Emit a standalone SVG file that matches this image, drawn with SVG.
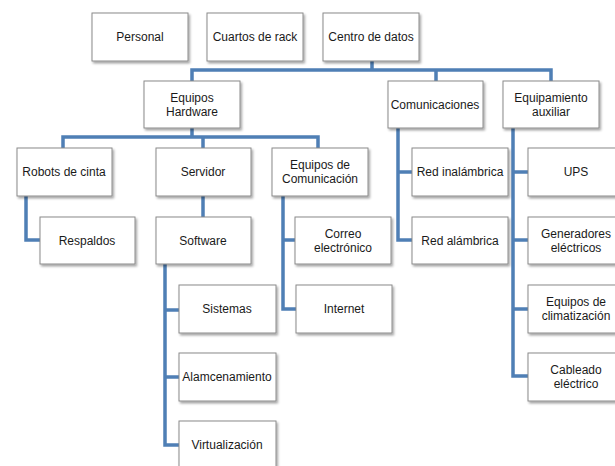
<svg xmlns="http://www.w3.org/2000/svg" width="615" height="466" viewBox="0 0 615 466">
<style>
.box{fill:#fff;stroke:#8a8a8a;stroke-width:1;filter:url(#sh)}
.t{font-family:"Liberation Sans",Arial,sans-serif;font-size:12px;fill:#1a1a1a;text-anchor:middle}
.c{fill:none;stroke:#4f7fb5;stroke-width:3.5;stroke-linejoin:miter}
</style>
<defs>
<filter id="sh" x="-10%" y="-10%" width="130%" height="140%">
<feDropShadow dx="1.5" dy="2" stdDeviation="1" flood-color="#000" flood-opacity="0.35"/>
</filter>
</defs>
<rect width="615" height="466" fill="#fff"/>
<g id="connectors">
<path class="c" d="M372 61V70M192 81V70H551V81M436 70V81"/>
<path class="c" d="M192 128V137M63 148V137H318V148M203 137V148"/>
<path class="c" d="M26 196V240H40"/>
<path class="c" d="M203 196V217"/>
<path class="c" d="M165 264V445H179M165 310H179M165 377H179"/>
<path class="c" d="M283 196V309H296M283 240H295"/>
<path class="c" d="M398 128V240H412M398 172H412"/>
<path class="c" d="M513 128V376H528M513 172H528M513 240H528M513 309H528"/>
</g>
<g id="n-personal"><rect class="box" x="92" y="13" width="96" height="48"/><text class="t" x="140" y="41">Personal</text></g>
<g id="n-cuartos"><rect class="box" x="207" y="13" width="96" height="48"/><text class="t" x="255" y="41">Cuartos de rack</text></g>
<g id="n-centro"><rect class="box" x="323" y="13" width="96" height="48"/><text class="t" x="371" y="41">Centro de datos</text></g>
<g id="n-hardware"><rect class="box" x="144" y="81" width="96" height="47"/><text class="t" x="192" y="102">Equipos</text><text class="t" x="192" y="116">Hardware</text></g>
<g id="n-comunicaciones"><rect class="box" x="388" y="81" width="95" height="47"/><text class="t" x="435" y="109">Comunicaciones</text></g>
<g id="n-equipamiento"><rect class="box" x="503" y="81" width="96" height="47"/><text class="t" x="551" y="102">Equipamiento</text><text class="t" x="551" y="116">auxiliar</text></g>
<g id="n-robots"><rect class="box" x="17" y="148" width="95" height="48"/><text class="t" x="64" y="176">Robots de cinta</text></g>
<g id="n-servidor"><rect class="box" x="156" y="148" width="95" height="48"/><text class="t" x="203" y="176">Servidor</text></g>
<g id="n-eqcom"><rect class="box" x="272" y="148" width="96" height="48"/><text class="t" x="320" y="169">Equipos de</text><text class="t" x="320" y="183">Comunicación</text></g>
<g id="n-redin"><rect class="box" x="412" y="148" width="96" height="48"/><text class="t" x="460" y="176">Red inalámbrica</text></g>
<g id="n-ups"><rect class="box" x="528" y="148" width="96" height="48"/><text class="t" x="576" y="176">UPS</text></g>
<g id="n-respaldos"><rect class="box" x="40" y="217" width="95" height="47"/><text class="t" x="87" y="245">Respaldos</text></g>
<g id="n-software"><rect class="box" x="156" y="217" width="95" height="47"/><text class="t" x="203" y="245">Software</text></g>
<g id="n-correo"><rect class="box" x="295" y="217" width="96" height="47"/><text class="t" x="343" y="238">Correo</text><text class="t" x="343" y="252">electrónico</text></g>
<g id="n-redal"><rect class="box" x="412" y="217" width="96" height="47"/><text class="t" x="460" y="245">Red alámbrica</text></g>
<g id="n-generadores"><rect class="box" x="528" y="217" width="96" height="47"/><text class="t" x="576" y="238">Generadores</text><text class="t" x="576" y="252">eléctricos</text></g>
<g id="n-sistemas"><rect class="box" x="179" y="285" width="97" height="48"/><text class="t" x="227" y="313">Sistemas</text></g>
<g id="n-internet"><rect class="box" x="296" y="285" width="96" height="48"/><text class="t" x="344" y="313">Internet</text></g>
<g id="n-climatizacion"><rect class="box" x="528" y="285" width="96" height="48"/><text class="t" x="576" y="306">Equipos de</text><text class="t" x="576" y="320">climatización</text></g>
<g id="n-almacenamiento"><rect class="box" x="179" y="353" width="97" height="48"/><text class="t" x="227" y="381">Alamcenamiento</text></g>
<g id="n-cableado"><rect class="box" x="528" y="353" width="96" height="48"/><text class="t" x="576" y="374">Cableado</text><text class="t" x="576" y="388">eléctrico</text></g>
<g id="n-virtualizacion"><rect class="box" x="179" y="421" width="97" height="48"/><text class="t" x="227" y="449">Virtualización</text></g>
</svg>
